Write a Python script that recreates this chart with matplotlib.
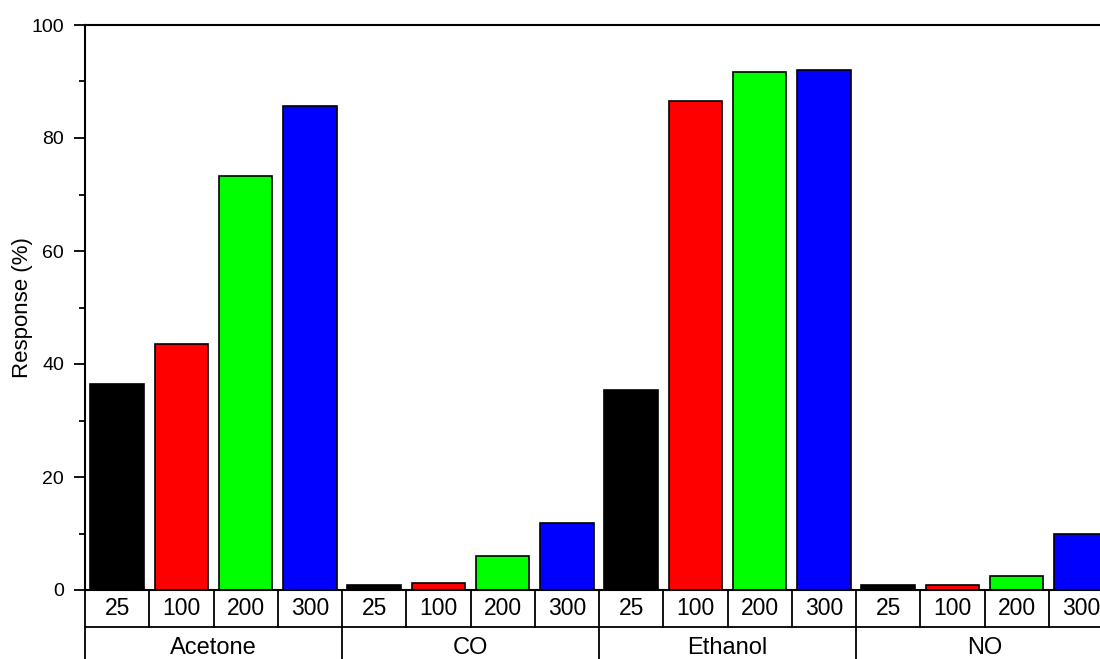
import matplotlib.pyplot as plt
import matplotlib.transforms as mtransforms
from matplotlib.ticker import MultipleLocator

plt.rcParams['font.family'] = ['Liberation Sans', 'DejaVu Sans']

gases = ['Acetone', 'CO', 'Ethanol', 'NO']
temps = ['25', '100', '200', '300']
colors = ['#000000', '#ff0000', '#00ff00', '#0000ff']

# response (%) per gas, ordered by temperature
acetone = [36.5, 43.5, 73.3, 85.6]
co = [0.9, 1.2, 6.0, 11.9]
ethanol = [35.4, 86.6, 91.6, 92.1]
no = [0.9, 0.8, 2.4, 9.9]
series = [acetone, co, ethanol, no]

fig = plt.figure(figsize=(11, 6.59), dpi=100)
W, H = 1100, 659
left, top, bottom = 85, 25, 590
slot = 64.25
ax = fig.add_axes([left / W, 1 - bottom / H, 16 * slot / W, (bottom - top) / H])

for g, vals in enumerate(series):
    for t, v in enumerate(vals):
        ax.bar(g * 4 + t, v, width=0.83, color=colors[t],
               edgecolor='black', linewidth=1.2)

ax.set_xlim(-0.5, 15.5)
ax.set_ylim(0, 100)
ax.yaxis.set_major_locator(MultipleLocator(20))
ax.yaxis.set_minor_locator(MultipleLocator(10))
ax.tick_params(axis='y', which='major', length=8, width=1.3, pad=7,
               labelsize=14)
ax.tick_params(axis='y', which='minor', length=4.5, width=1.3)
ax.tick_params(axis='x', bottom=False, labelbottom=False)
ax.spines['right'].set_visible(False)
for s in ['left', 'top', 'bottom']:
    ax.spines[s].set_linewidth(1.5)
ax.set_ylabel('Response (%)', fontsize=16, labelpad=-1)

# two-row category table below the axis
tr = mtransforms.blended_transform_factory(ax.transData, ax.transAxes)
hpx = bottom - top
row1 = -(627 - bottom) / hpx
row2 = -(H + 5 - bottom) / hpx
ax.plot([-0.5, 15.5], [row1, row1], color='black', lw=1.3,
        transform=tr, clip_on=False)
for i in range(17):
    x = i - 0.5
    y_end = row2 if i % 4 == 0 else row1
    ax.plot([x, x], [0, y_end], color='black', lw=1.3,
            transform=tr, clip_on=False)
for g, gas in enumerate(gases):
    for t, temp in enumerate(temps):
        ax.text(g * 4 + t, row1 / 2, temp, transform=tr, ha='center',
                va='center', fontsize=16.5)
    ax.text(g * 4 + 1.5, -(648 - bottom) / hpx, gas, transform=tr,
            ha='center', va='center', fontsize=17)

fig.savefig('out.png', dpi=100)
